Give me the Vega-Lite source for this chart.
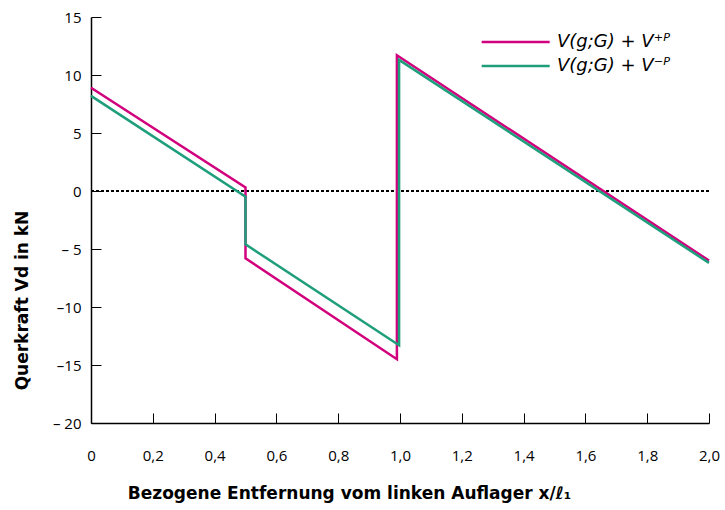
{
  "$schema": "https://vega.github.io/schema/vega-lite/v6.json",
  "width": 618,
  "height": 406,
  "autosize": {"type": "none"},
  "padding": {"left": 91, "top": 17, "right": 16, "bottom": 87},
  "background": "white",
  "config": {
    "view": {"stroke": null},
    "font": "Open Sans",
    "axis": {
      "grid": false,
      "domainColor": "black",
      "domainWidth": 1.5,
      "tickColor": "black",
      "tickWidth": 1,
      "labelColor": "black",
      "titleColor": "black",
      "labelFont": "Open Sans",
      "titleFont": "DejaVu Sans",
      "labelFontSize": 15,
      "titleFontSize": 17,
      "titleFontWeight": "bold"
    }
  },
  "data": {
    "values": [
      {"s": "V(g;G) + V⁺ᴾ", "i": 1, "x": 0, "v": 8.9},
      {"s": "V(g;G) + V⁺ᴾ", "i": 2, "x": 0.5, "v": 0.3},
      {"s": "V(g;G) + V⁺ᴾ", "i": 3, "x": 0.5, "v": -5.8},
      {"s": "V(g;G) + V⁺ᴾ", "i": 4, "x": 0.99, "v": -14.5},
      {"s": "V(g;G) + V⁺ᴾ", "i": 5, "x": 0.99, "v": 11.7},
      {"s": "V(g;G) + V⁺ᴾ", "i": 6, "x": 2.0, "v": -6.0},
      {"s": "V(g;G) + V⁻ᴾ", "i": 1, "x": 0, "v": 8.2},
      {"s": "V(g;G) + V⁻ᴾ", "i": 2, "x": 0.5, "v": -0.5},
      {"s": "V(g;G) + V⁻ᴾ", "i": 3, "x": 0.5, "v": -4.6},
      {"s": "V(g;G) + V⁻ᴾ", "i": 4, "x": 0.997, "v": -13.3},
      {"s": "V(g;G) + V⁻ᴾ", "i": 5, "x": 0.997, "v": 11.3},
      {"s": "V(g;G) + V⁻ᴾ", "i": 6, "x": 2.0, "v": -6.2}
    ]
  },
  "layer": [
    {
      "mark": {"type": "rule", "strokeDash": [3, 2], "strokeWidth": 0.8, "color": "black"},
      "encoding": {"y": {"datum": 0}}
    },
    {
      "mark": {"type": "line", "strokeWidth": 2.5, "strokeJoin": "miter"},
      "encoding": {
        "x": {
          "field": "x", "type": "quantitative",
          "scale": {"domain": [0, 2], "nice": false, "zero": false},
          "axis": {
            "values": [0, 0.2, 0.4, 0.6, 0.8, 1.0, 1.2, 1.4, 1.6, 1.8, 2.0],
            "labelExpr": "datum.value == 0 ? '0' : replace(format(datum.value, '.1f'), '.', ',')",
            "tickSize": -10,
            "labelPadding": 35,
            "labelFlush": false,
            "title": "Bezogene Entfernung vom linken Auflager x/ℓ₁",
            "titleX": 258,
            "titlePadding": 22
          }
        },
        "y": {
          "field": "v", "type": "quantitative",
          "scale": {"domain": [-20, 15], "nice": false, "zero": false},
          "axis": {
            "values": [-20, -15, -10, -5, 0, 5, 10, 15],
            "labelExpr": "datum.value == -5 ? '– 5' : datum.value == -20 ? '– 20' : datum.value < 0 ? '–' + (-datum.value) : '' + datum.value",
            "tickSize": -10,
            "labelPadding": 20,
            "labelFlush": false,
            "title": "Querkraft Vd in kN",
            "titleX": -69,
            "titleY": 283,
            "titleBaseline": "middle"
          }
        },
        "order": {"field": "i", "type": "quantitative"},
        "color": {
          "field": "s", "type": "nominal",
          "scale": {"domain": ["V(g;G) + V⁺ᴾ", "V(g;G) + V⁻ᴾ"], "range": ["#d1007d", "#1f9e7c"]},
          "legend": {
            "title": null,
            "orient": "none",
            "legendX": 389,
            "legendY": 12,
            "symbolType": "M-1,0L5,0",
            "symbolSize": 514,
            "symbolStrokeWidth": 2.5,
            "labelFontSize": 18,
            "labelFontStyle": "italic",
            "labelFont": "DejaVu Sans",
            "labelColor": "black",
            "labelOffset": 51,
            "rowPadding": 2
          }
        }
      }
    }
  ]
}
